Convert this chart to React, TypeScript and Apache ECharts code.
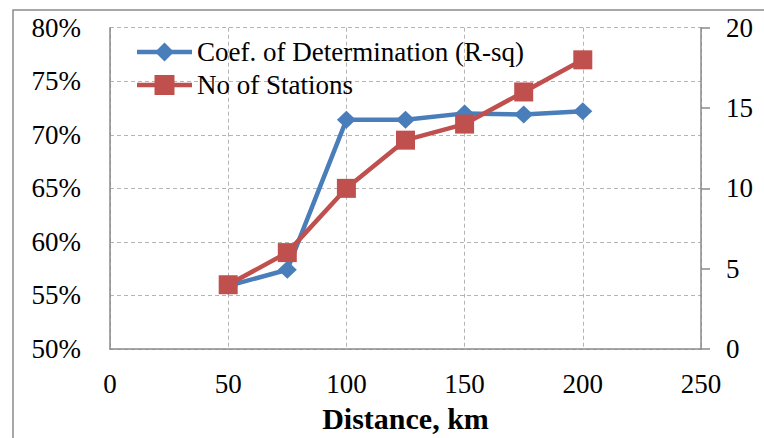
import React, { useEffect, useRef } from "react";
import * as echarts from "echarts";

const distances = [50, 75, 100, 125, 150, 175, 200];
const rSquared = [55.9, 57.4, 71.4, 71.4, 72.0, 71.9, 72.2];
const stations = [4, 6, 10, 13, 14, 16, 18];
const seriesNames = ["Coef. of Determination (R-sq)", "No of Stations"];
const seriesColors = ["#4a7ebb", "#c0504d"];
const xAxisTitle = "Distance, km";

const FONT = "Liberation Serif";

export default function App() {
  const ref = useRef<HTMLDivElement>(null);
  useEffect(() => {
    if (!ref.current) return;
    const chart = echarts.init(ref.current, null, { renderer: "svg" });
    const gridLine = { show: true, lineStyle: { color: "#b4b4b4", type: [4, 3] as any, width: 1 } };
    const axisLine = { show: true, lineStyle: { color: "#8a8a8a", width: 1.5 } };

    // legend drawn with graphic elements (line + marker + text)
    const lx0 = 137, lx1 = 192, rows = [52, 85];
    const legendGraphics: any[] = [];
    rows.forEach((cy, i) => {
      const c = seriesColors[i];
      const cx = (lx0 + lx1) / 2;
      legendGraphics.push({
        type: "line",
        shape: { x1: lx0, y1: cy, x2: lx1, y2: cy },
        style: { stroke: c, lineWidth: 4.5 },
        silent: true,
        z: 10,
      });
      if (i === 0) {
        legendGraphics.push({
          type: "polygon",
          shape: { points: [[cx, cy - 9.5], [cx + 9.5, cy], [cx, cy + 9.5], [cx - 9.5, cy]] },
          style: { fill: c },
          silent: true,
          z: 11,
        });
      } else {
        legendGraphics.push({
          type: "rect",
          shape: { x: cx - 10, y: cy - 10, width: 20, height: 20 },
          style: { fill: c },
          silent: true,
          z: 11,
        });
      }
      legendGraphics.push({
        type: "text",
        x: 197,
        y: cy,
        style: {
          text: seriesNames[i],
          fontFamily: FONT,
          fontSize: 27,
          fill: "#000",
          verticalAlign: "middle",
          align: "left",
        },
        silent: true,
        z: 11,
      });
    });

    chart.setOption({
      animation: false,
      backgroundColor: "#ffffff",
      textStyle: { fontFamily: FONT },
      graphic: [
        {
          type: "rect",
          shape: { x: 13, y: 10, width: 800, height: 500 },
          style: { fill: "none", stroke: "#8c8c8c", lineWidth: 1.5 },
          silent: true,
        },
        ...legendGraphics,
      ],
      grid: { left: 110, right: 63, top: 27.7, bottom: 85.3, containLabel: false },
      xAxis: {
        type: "value",
        min: 0,
        max: 250,
        interval: 50,
        axisLine,
        axisTick: { show: false },
        splitLine: gridLine,
        axisLabel: { fontFamily: FONT, fontSize: 27, color: "#000", margin: 21 },
        name: xAxisTitle,
        nameLocation: "middle",
        nameGap: 54,
        nameTextStyle: { fontFamily: FONT, fontSize: 30, fontWeight: "bold", color: "#000" },
      },
      yAxis: [
        {
          type: "value",
          min: 50,
          max: 80,
          interval: 5,
          position: "left",
          axisLine,
          axisTick: { show: false },
          splitLine: gridLine,
          axisLabel: { fontFamily: FONT, fontSize: 27, color: "#000", margin: 29, formatter: "{value}%" },
        },
        {
          type: "value",
          min: 0,
          max: 20,
          interval: 5,
          position: "right",
          axisLine,
          axisTick: { show: true, length: 9, inside: false, lineStyle: { color: "#8a8a8a", width: 1.5 } },
          splitLine: { show: false },
          axisLabel: { fontFamily: FONT, fontSize: 27, color: "#000", margin: 25 },
        },
      ],
      series: [
        {
          name: seriesNames[0],
          type: "line",
          yAxisIndex: 0,
          data: distances.map((d, i) => [d, rSquared[i]]),
          symbol: "diamond",
          symbolSize: [19, 18],
          lineStyle: { color: seriesColors[0], width: 4.5 },
          itemStyle: { color: seriesColors[0] },
          z: 2,
        },
        {
          name: seriesNames[1],
          type: "line",
          yAxisIndex: 1,
          data: distances.map((d, i) => [d, stations[i]]),
          symbol: "rect",
          symbolSize: 19,
          lineStyle: { color: seriesColors[1], width: 4.5 },
          itemStyle: { color: seriesColors[1] },
          z: 3,
        },
      ],
    });
    return () => chart.dispose();
  }, []);
  return (
    <div
      ref={ref}
      style={{ position: "absolute", left: 0, top: 0, width: 764, height: 438 }}
    />
  );
}
